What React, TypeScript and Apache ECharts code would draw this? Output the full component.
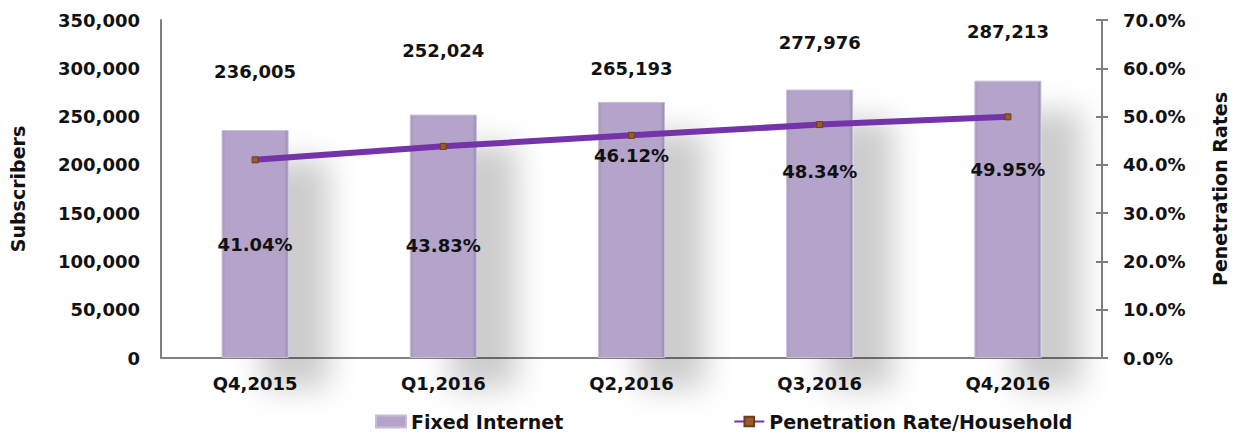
import React, { useEffect, useRef } from "react";
import * as echarts from "echarts";

const categories = ["Q4,2015", "Q1,2016", "Q2,2016", "Q3,2016", "Q4,2016"];
const subscribers = [236005, 252024, 265193, 277976, 287213];
const penetration = [41.04, 43.83, 46.12, 48.34, 49.95];
const leftTicks = [0, 50000, 100000, 150000, 200000, 250000, 300000, 350000];
const rightTicks = [0, 10, 20, 30, 40, 50, 60, 70];

// label placement tweaks (style only)
const barLabelOffsets = [-45, -50, -19, -33, -35];
const lineLabelOffsets = [85, 99, 20, 47, 53];

const FONT = "'DejaVu Sans', sans-serif";

export default function App() {
  const ref = useRef<HTMLDivElement>(null);
  useEffect(() => {
    const chart = echarts.init(ref.current!, null, { renderer: "svg" });
    const fmt = (v: number) => v.toLocaleString("en-US");
    const txt = { fontFamily: FONT, fontSize: 18, fontWeight: "bold", color: "#111" };
    chart.setOption({
      animation: false,
      textStyle: { fontFamily: FONT },
      grid: {
        left: 153,
        right: 137,
        top: 12,
        bottom: 78,
        containLabel: false,
        outerBoundsMode: "none",
      },
      legend: {
        bottom: 0,
        left: 362,
        itemGap: 170,
        itemWidth: 30,
        itemHeight: 12,
        textStyle: { ...txt, fontSize: 19 },
        data: [
          { name: "Fixed Internet", icon: "rect" },
          { name: "Penetration Rate/Household" },
        ],
      },
      xAxis: {
        type: "category",
        data: categories,
        axisLine: { lineStyle: { color: "#808080", width: 2 } },
        axisTick: { show: false },
        axisLabel: { ...txt, margin: 16 },
      },
      yAxis: [
        {
          type: "value",
          min: 0,
          max: 350000,
          interval: 50000,
          name: "Subscribers",
          nameLocation: "middle",
          nameGap: 134,
          nameTextStyle: { fontFamily: FONT, fontSize: 19, fontWeight: "bold", color: "#111" },
          axisLine: { show: true, lineStyle: { color: "#808080", width: 2 } },
          axisTick: { show: false },
          splitLine: { show: false },
          axisLabel: {
            ...txt,
            margin: 21,
            formatter: (v: number) => (leftTicks.includes(v) ? fmt(v) : ""),
          },
        },
        {
          type: "value",
          min: 0,
          max: 70,
          interval: 10,
          position: "right",
          name: "Penetration Rates",
          nameLocation: "middle",
          nameGap: 108,
          nameRotate: 90,
          nameTextStyle: { fontFamily: FONT, fontSize: 19, fontWeight: "bold", color: "#111" },
          axisLine: { show: true, lineStyle: { color: "#808080", width: 2 } },
          axisTick: { show: true, length: 6, lineStyle: { color: "#808080", width: 2 } },
          splitLine: { show: false },
          axisLabel: {
            ...txt,
            margin: 21,
            formatter: (v: number) => (rightTicks.includes(v) ? v.toFixed(1) + "%" : ""),
          },
        },
        {
          type: "value",
          min: 0,
          max: 70,
          interval: 10,
          position: "right",
          axisLine: { show: false },
          axisTick: { show: true, inside: true, length: 6, lineStyle: { color: "#808080", width: 2 } },
          axisLabel: { show: false },
          splitLine: { show: false },
        },
      ],
      series: [
        {
          name: "Fixed Internet",
          type: "bar",
          barWidth: 67,
          z: 2,
          itemStyle: {
            color: new echarts.graphic.LinearGradient(0, 0, 1, 0, [
              { offset: 0, color: "#a897bd" },
              { offset: 0.06, color: "#b4a4c9" },
              { offset: 0.94, color: "#b4a4c9" },
              { offset: 1, color: "#9a89af" },
            ]),
            borderColor: "#c9bcd9",
            borderWidth: 1,
            shadowColor: "rgba(0,0,0,0.2)",
            shadowBlur: 30,
            shadowOffsetX: 40,
            shadowOffsetY: 30,
          },
          data: subscribers.map((v, i) => ({
            value: v,
            label: {
              show: true,
              position: "top",
              offset: [0, barLabelOffsets[i]],
              ...txt,
              formatter: () => fmt(v),
            },
          })),
        },
        {
          name: "Penetration Rate/Household",
          type: "line",
          yAxisIndex: 1,
          z: 5,
          symbol: "rect",
          symbolSize: 6,
          itemStyle: { color: "#9a5b2a", borderColor: "#6b3d1a", borderWidth: 1 },
          lineStyle: { color: "#7433a8", width: 6 },
          data: penetration.map((v, i) => ({
            value: v,
            label: {
              show: true,
              position: "inside",
              offset: [0, lineLabelOffsets[i]],
              ...txt,
              formatter: () => v.toFixed(2) + "%",
            },
          })),
        },
      ],
    });
    return () => chart.dispose();
  }, []);
  return <div ref={ref} style={{ width: 1231, height: 428 }} />;
}
